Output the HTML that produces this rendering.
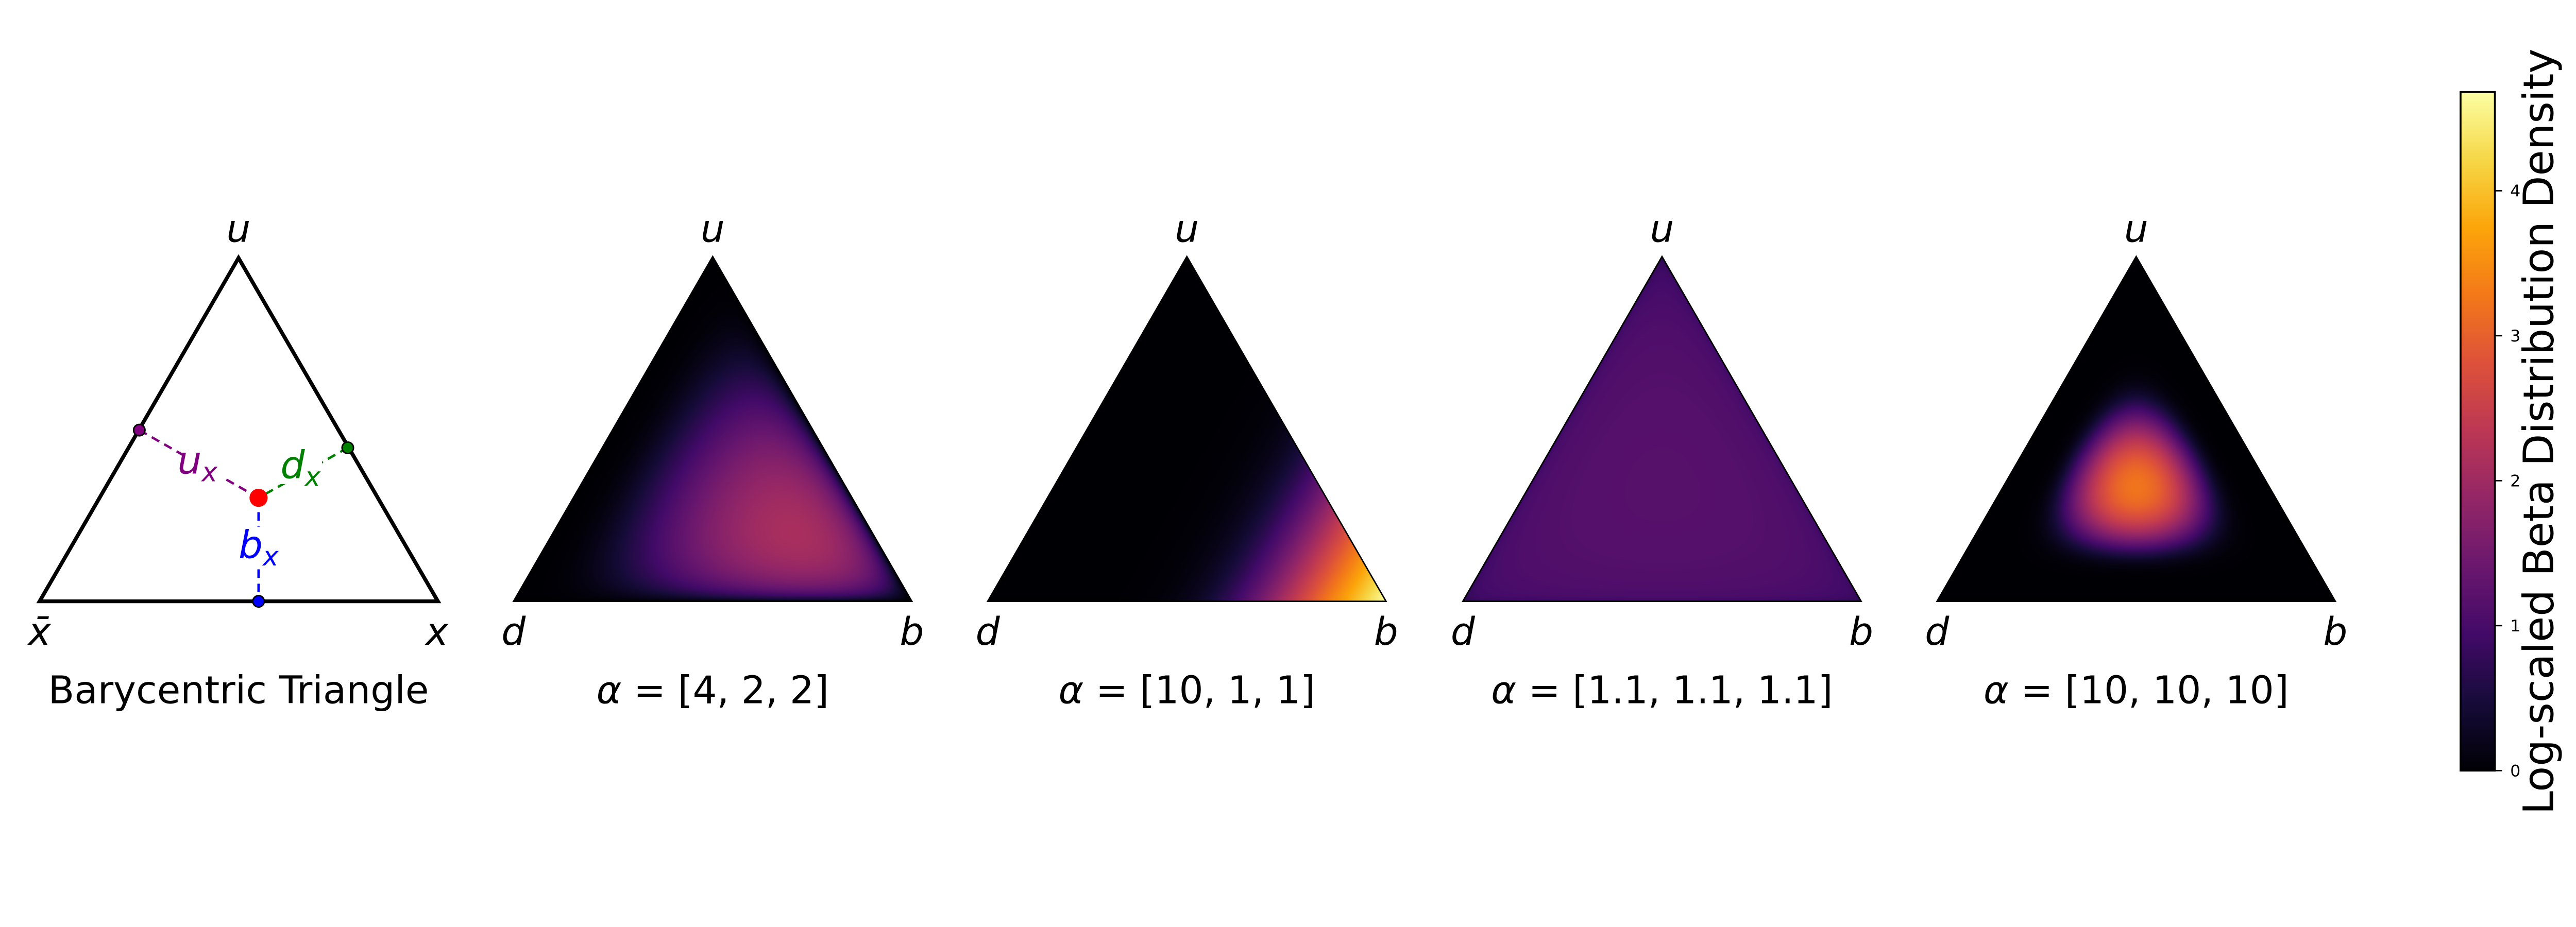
<!DOCTYPE html>
<html><head><meta charset="utf-8"><style>
html,body{margin:0;padding:0;background:#fff;overflow:hidden;}
#root{position:relative;width:5400px;height:1800px;overflow:hidden;background:#fff;transform-origin:0 0;}
canvas{position:absolute;left:0;top:0;display:block;}
svg{position:absolute;left:0;top:0;display:block;overflow:hidden;}
text{font-family:"DejaVu Sans","Liberation Sans",sans-serif;}
</style></head><body>
<div id="root">
<canvas id="heat" width="5400" height="1800" style="width:5400px;height:1800px"></canvas>
<svg id="svg" width="5400" height="1800" viewBox="0 0 5400 1800" xmlns="http://www.w3.org/2000/svg">
  <defs>
    <linearGradient id="inferno" x1="0" y1="1" x2="0" y2="0">
      <stop offset="0" stop-color="#000004"/><stop offset="0.1" stop-color="#160b39"/>
      <stop offset="0.2" stop-color="#420a68"/><stop offset="0.3" stop-color="#6a176e"/>
      <stop offset="0.4" stop-color="#932667"/><stop offset="0.5" stop-color="#bc3754"/>
      <stop offset="0.6" stop-color="#dd513a"/><stop offset="0.7" stop-color="#f37819"/>
      <stop offset="0.8" stop-color="#fca50a"/><stop offset="0.9" stop-color="#f6d746"/>
      <stop offset="1" stop-color="#fcffa4"/>
    </linearGradient>
  </defs>
  <g>
    <polygon points="500,541 83,1261 918,1261" fill="none" stroke="#000" stroke-width="8" stroke-linejoin="miter"/>
    <line x1="292" y1="902" x2="542" y2="1044" stroke="purple" stroke-width="5" stroke-dasharray="18,12"/>
    <line x1="729" y1="939" x2="542" y2="1044" stroke="green" stroke-width="5" stroke-dasharray="18,12"/>
    <line x1="542" y1="1044" x2="542" y2="1261" stroke="blue" stroke-width="5" stroke-dasharray="18,12"/>
    <rect x="385" y="925" width="90" height="80" fill="#fff"/>
    <rect x="585" y="935" width="90" height="80" fill="#fff"/>
    <rect x="500" y="1105" width="90" height="80" fill="#fff"/>
    <circle cx="292" cy="902" r="12" fill="purple" stroke="#000" stroke-width="3"/>
    <circle cx="729" cy="939" r="12" fill="green" stroke="#000" stroke-width="3"/>
    <circle cx="542" cy="1261" r="12" fill="blue" stroke="#000" stroke-width="3"/>
    <circle cx="542" cy="1044" r="19" fill="red"/>
    <text x="372" y="993" font-size="80" font-style="italic" fill="purple">u<tspan font-size="56" dy="16">x</tspan></text>
    <text x="588" y="1003" font-size="80" font-style="italic" fill="green">d<tspan font-size="56" dy="16">x</tspan></text>
    <text x="500" y="1170" font-size="80" font-style="italic" fill="blue">b<tspan font-size="56" dy="16">x</tspan></text>
    <text x="500" y="507" font-size="80" font-style="italic" text-anchor="middle">u</text>
    <text x="83" y="1352" font-size="80" font-style="italic" text-anchor="middle">x̄</text>
    <text x="916" y="1352" font-size="80" font-style="italic" text-anchor="middle">x</text>
    <text x="500" y="1475" font-size="80" text-anchor="middle">Barycentric Triangle</text>
  </g>
  <g id="panels"></g>
  <g>
    <rect x="5158" y="193" width="72" height="1423" fill="url(#inferno)" stroke="#000" stroke-width="4"/>
    <g id="cbticks"></g>
    <text transform="translate(5352,905) rotate(-90)" font-size="88" text-anchor="middle">Log-scaled Beta Distribution Density</text>
  </g>
</svg>
</div>
<script>
// Dirichlet concentration parameters per panel, order [b, d, u]
const alphaB = [4, 10, 1.1, 10];
const alphaD = [2, 1, 1.1, 10];
const alphaU = [2, 1, 1.1, 10];
const panelTitles = ["[4, 2, 2]", "[10, 1, 1]", "[1.1, 1.1, 1.1]", "[10, 10, 10]"];
const cbTicks = [0, 1, 2, 3, 4];

const NS = "http://www.w3.org/2000/svg";
const centers = [1494, 2488, 3484, 4478];
const W = 835, H = 723, baseY = 1261;
const cbTop = 193, cbBot = 1616, cbUnit = 304;
const vmax = (cbBot - cbTop) / cbUnit;

(function fit(){
  const r=document.getElementById('root');
  const s=Math.min(window.innerWidth/5400, window.innerHeight/1800);
  if(s>0 && s<0.999){ r.style.transform='scale('+s+')'; }
})();

function lgamma(z){
  const g=7,c=[0.99999999999980993,676.5203681218851,-1259.1392167224028,771.32342877765313,-176.61502916214059,12.507343278686905,-0.13857109526572012,9.9843695780195716e-6,1.5056327351493116e-7];
  if(z<0.5) return Math.log(Math.PI/Math.abs(Math.sin(Math.PI*z)))-lgamma(1-z);
  z-=1; let x=c[0]; for(let i=1;i<g+2;i++) x+=c[i]/(z+i);
  const t=z+g+0.5; return 0.5*Math.log(2*Math.PI)+(z+0.5)*Math.log(t)-t+Math.log(x);
}
const inf=[[0,0,4],[22,11,57],[66,10,104],[106,23,110],[147,38,103],[188,55,84],[221,81,58],[243,120,25],[252,165,10],[246,215,70],[252,255,164]];
function cmap(t){t=Math.max(0,Math.min(1,t))*10;const i=Math.min(9,Math.floor(t)),f=t-i;
  return [0,1,2].map(k=>inf[i][k]+(inf[i+1][k]-inf[i][k])*f);}

const ctx=document.getElementById('heat').getContext('2d');
const img=ctx.createImageData(5400,1800);
const d=img.data;
const panels=document.getElementById('panels');
for(let p=0;p<alphaB.length;p++){
  const a=[alphaB[p],alphaD[p],alphaU[p]];
  const lnorm=lgamma(a[0]+a[1]+a[2])-lgamma(a[0])-lgamma(a[1])-lgamma(a[2]);
  const cx=centers[p], left=cx-W/2, top=baseY-H;
  for(let y=Math.floor(top);y<=baseY;y++){
    const u=(baseY-y)/H; if(u<0||u>1) continue;
    const half=(1-u)*W/2;
    for(let x=Math.ceil(cx-half);x<=Math.floor(cx+half);x++){
      const b=(x-left)/W-u/2, dd=1-b-u;
      const bb=Math.max(b,1e-9), d2=Math.max(dd,1e-9), uu=Math.max(u,1e-9);
      const lp=lnorm+(a[0]-1)*Math.log(bb)+(a[1]-1)*Math.log(d2)+(a[2]-1)*Math.log(uu);
      const v=Math.log1p(Math.exp(lp));
      const col=cmap(v/vmax); const idx=(y*5400+x)*4;
      d[idx]=col[0];d[idx+1]=col[1];d[idx+2]=col[2];d[idx+3]=255;
    }
  }
  const g=document.createElementNS(NS,'g');
  
  
  const tri=document.createElementNS(NS,'polygon');
  
  
  tri.setAttribute('points',`${cx},${top} ${left},${baseY} ${left+W},${baseY}`);
  tri.setAttribute('fill','none');tri.setAttribute('stroke','#000');tri.setAttribute('stroke-width','3');
  g.appendChild(tri);
  const labs=[['u',cx,507,'u-vertex-label'],['d',left,1352,'d-vertex-label'],['b',left+W,1352,'b-vertex-label']];
  for(const [s,x,y,n] of labs){
    const t=document.createElementNS(NS,'text');
    
    
    t.setAttribute('x',x);t.setAttribute('y',y);t.setAttribute('font-size','80');
    t.setAttribute('font-style','italic');t.setAttribute('text-anchor','middle');
    t.textContent=s;g.appendChild(t);
  }
  const tt=document.createElementNS(NS,'text');
  
  
  tt.setAttribute('x',cx);tt.setAttribute('y',1475);tt.setAttribute('font-size','80');tt.setAttribute('text-anchor','middle');
  const ts=document.createElementNS(NS,'tspan');ts.setAttribute('font-style','italic');ts.textContent='α';
  tt.appendChild(ts);tt.appendChild(document.createTextNode(' = '+panelTitles[p]));
  g.appendChild(tt);
  panels.appendChild(g);
}
ctx.putImageData(img,0,0);

const tk=document.getElementById('cbticks');
for(const v of cbTicks){
  const y=cbBot-v*cbUnit;
  const l=document.createElementNS(NS,'line');
  
  
  l.setAttribute('x1',5230);l.setAttribute('x2',5245);l.setAttribute('y1',y);l.setAttribute('y2',y);
  l.setAttribute('stroke','#000');l.setAttribute('stroke-width','3');tk.appendChild(l);
  const t=document.createElementNS(NS,'text');
  
  
  t.setAttribute('x',5262);t.setAttribute('y',y+12);t.setAttribute('font-size','34');
  t.textContent=v;tk.appendChild(t);
}
</script>
</body></html>
